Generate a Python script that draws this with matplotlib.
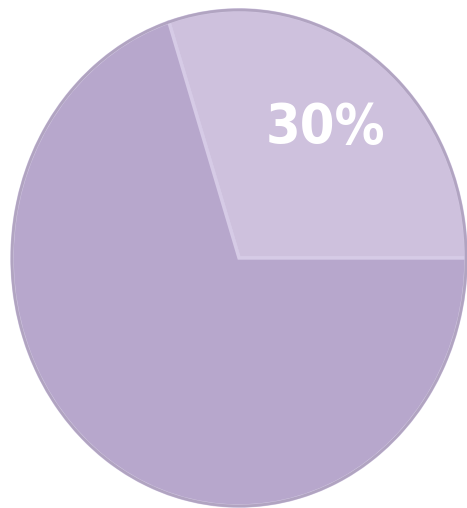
import matplotlib.pyplot as plt
from matplotlib.patches import Ellipse

shares = [30, 70]
slice_colors = ['#cec1dd', '#b7a7cc']
shown = [30]

fig = plt.figure(figsize=(4.67, 5.08), dpi=100)
ax = fig.add_axes([0, 0, 1, 1])


def pct_label(p):
    v = int(round(p))
    return '%d%%' % v if v in shown else ''


wedges, texts, autotexts = ax.pie(shares,
                                  colors=slice_colors,
                                  startangle=0,
                                  counterclock=True,
                                  autopct=pct_label,
                                  pctdistance=0.65,
                                  wedgeprops=dict(edgecolor='#d6cbe6', linewidth=2.5),
                                  textprops=dict(color='white', fontsize=40,
                                                 fontweight='bold',
                                                 family='DejaVu Sans',
                                                 fontstretch='condensed'))

# soft grey rim around the disc
ax.add_patch(Ellipse((0, 0), 2, 2, fill=False, edgecolor='#a89bb8',
                     linewidth=2, alpha=0.8))

ax.set_xlim(-1.053, 1.004)
ax.set_ylim(-1.008, 1.040)
ax.set_aspect('auto')
ax.axis('off')

fig.savefig('out.png', dpi=100, facecolor='white')
